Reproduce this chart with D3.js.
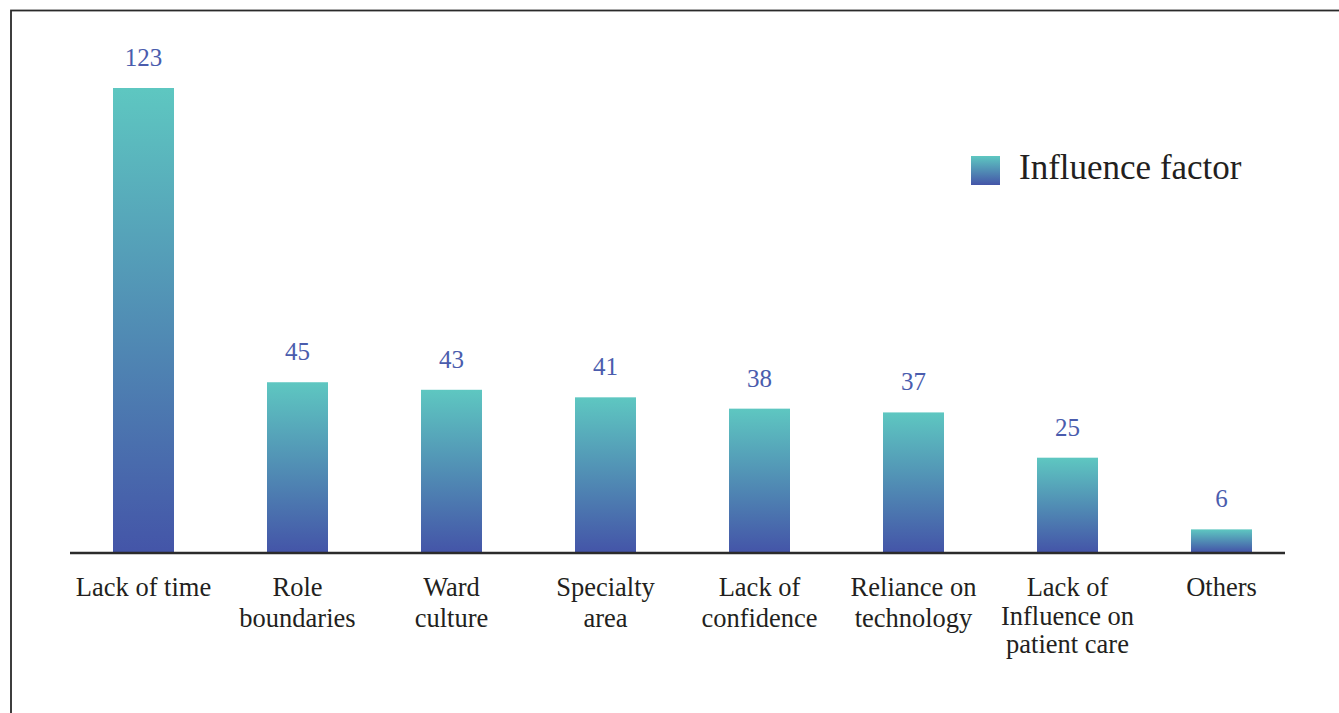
<!DOCTYPE html>
<html>
<head>
<meta charset="utf-8">
<script src="https://cdn.jsdelivr.net/npm/d3@7"></script>
<style>
  html, body { margin: 0; padding: 0; background: #fff; }
  svg { display: block; }
  text { font-family: "Liberation Serif", "DejaVu Serif", serif; }
</style>
</head>
<body>
<svg id="chart" width="1339" height="713"></svg>
<script>
// ---- data ----
const categories = ["Lack of time", "Role boundaries", "Ward culture", "Specialty area",
  "Lack of confidence", "Reliance on technology", "Lack of Influence on patient care", "Others"];
const tickLabelLines = [
  ["Lack of time"],
  ["Role", "boundaries"],
  ["Ward", "culture"],
  ["Specialty", "area"],
  ["Lack of", "confidence"],
  ["Reliance on", "technology"],
  ["Lack of", "Influence on", "patient care"],
  ["Others"]
];
const values = [123, 45, 43, 41, 38, 37, 25, 6];
const seriesName = "Influence factor";

// ---- drawing ----
const svg = d3.select("#chart");

// frame
svg.append("rect")
  .attr("x", 11).attr("y", 10.5)
  .attr("width", 1500).attr("height", 900)
  .attr("fill", "none").attr("stroke", "#2a2a2a").attr("stroke-width", 1.8);

const defs = svg.append("defs");
const grad = defs.append("linearGradient")
  .attr("id", "barGrad").attr("x1", 0).attr("y1", 0).attr("x2", 0).attr("y2", 1);
grad.append("stop").attr("offset", "0%").attr("stop-color", "#5ec7c1");
grad.append("stop").attr("offset", "100%").attr("stop-color", "#4455a8");

const baseY = 552;
const x = d3.scaleBand()
  .domain(categories)
  .range([66.5, 1298.5])
  .paddingInner(93 / 154)
  .paddingOuter(93 / 154 / 2);

const y = d3.scaleLinear().domain([0, 123]).range([baseY, 88]);

// bars
svg.append("g").selectAll("rect")
  .data(values)
  .join("rect")
  .attr("x", (d, i) => x(categories[i]))
  .attr("y", d => y(d))
  .attr("width", x.bandwidth())
  .attr("height", d => baseY - y(d))
  .attr("fill", "url(#barGrad)");

// value labels
svg.append("g").selectAll("text")
  .data(values)
  .join("text")
  .attr("x", (d, i) => x(categories[i]) + x.bandwidth() / 2)
  .attr("y", d => y(d) - 22)
  .attr("text-anchor", "middle")
  .attr("font-size", 25)
  .attr("fill", "#4a5cad")
  .text(d => d);

// x axis
const xAxis = d3.axisBottom(x).tickSize(0).tickFormat("");
const axisG = svg.append("g").attr("transform", `translate(0,${baseY})`).call(xAxis);
axisG.select(".domain").remove();
svg.append("line")
  .attr("x1", 70).attr("x2", 1285)
  .attr("y1", baseY + 1).attr("y2", baseY + 1)
  .attr("stroke", "#2b2b2b").attr("stroke-width", 2.4);

// category labels
axisG.selectAll(".tick").each(function(d, i) {
  const n = tickLabelLines[i].length;
  const t = d3.select(this).append("text")
    .attr("y", 44)
    .attr("text-anchor", "middle")
    .attr("font-size", 26.5)
    .attr("fill", "#231f20");
  tickLabelLines[i].forEach((line, j) => {
    t.append("tspan").attr("x", 0).attr("dy", j === 0 ? 0 : (n > 2 ? 28.5 : 30.5)).text(line);
  });
});

// legend
const lg = svg.append("g").attr("transform", "translate(971,156)");
lg.append("rect").attr("width", 29).attr("height", 29).attr("fill", "url(#barGrad)");
lg.append("text")
  .attr("x", 48).attr("y", 23)
  .attr("font-size", 35)
  .attr("fill", "#231f20")
  .text(seriesName);
</script>
</body>
</html>
